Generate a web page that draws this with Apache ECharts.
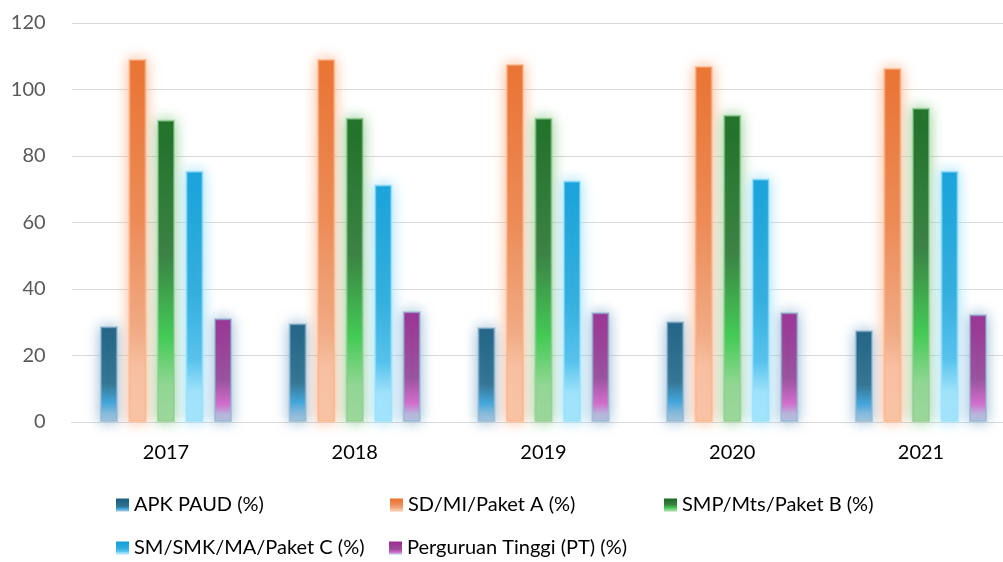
<!DOCTYPE html>
<html>
<head>
<meta charset="utf-8">
<script src="https://cdn.jsdelivr.net/npm/echarts@6/dist/echarts.min.js"></script>
<style>
html,body{margin:0;padding:0;background:#fff;overflow:hidden;}
#chart{width:1003px;height:562px;}
</style>
</head>
<body>
<div id="chart"></div>
<script>
var categories = ['2017', '2018', '2019', '2020', '2021'];
var seriesNames = ['APK PAUD (%)', 'SD/MI/Paket A (%)', 'SMP/Mts/Paket B (%)', 'SM/SMK/MA/Paket C (%)', 'Perguruan Tinggi (PT) (%)'];
var apkPaud = [28.8, 29.7, 28.5, 30.3, 27.6];
var sdMi = [109.2, 109.2, 107.7, 107.1, 106.5];
var smpMts = [90.9, 91.5, 91.5, 92.4, 94.5];
var smSmk = [75.6, 71.4, 72.6, 73.2, 75.6];
var pt = [31.2, 33.3, 33.0, 33.0, 32.4];
var yTicks = [0, 20, 40, 60, 80, 100, 120];

var values = [apkPaud, sdMi, smpMts, smSmk, pt];

function grad(stops) {
  return {type: 'linear', x: 0, y: 0, x2: 0, y2: 1,
    colorStops: stops.map(function (s) { return {offset: s[0], color: s[1]}; })};
}
var fills = [
  grad([[0, '#1a5e80'], [0.6, '#2f7290'], [0.8, '#3ea5dc'], [0.9, '#7fb8dc'], [1, '#a9c8dc']]),
  grad([[0, '#e86f2c'], [0.45, '#ec8a55'], [0.75, '#f0ab85'], [0.85, '#f8c2a4'], [1, '#f9c5a8']]),
  grad([[0, '#196a22'], [0.45, '#367e40'], [0.72, '#3fcb52'], [0.88, '#93d895'], [1, '#9fd89d']]),
  grad([[0, '#0f9ed8'], [0.5, '#2eacdc'], [0.75, '#52c1ec'], [0.88, '#a0e3fb'], [1, '#a3e5fb']]),
  grad([[0, '#9c2a90'], [0.6, '#9b4c9b'], [0.83, '#d868cc'], [0.93, '#bbb7dc'], [1, '#b7c0dc']])
];
var glows = ['#8fb5d2', '#fbb287', '#8ccb8c', '#98dffb', '#8fb5d2'];
var rims = ['rgba(143,181,210,0.6)', 'rgba(251,178,135,0.6)', 'rgba(140,203,140,0.6)', 'rgba(152,223,251,0.6)', 'rgba(143,181,210,0.6)'];

var series = seriesNames.map(function (n, i) {
  return {
    name: n,
    type: 'bar',
    data: values[i],
    barCategoryGap: '30%',
    barGap: '58%',
    itemStyle: {color: fills[i], borderColor: rims[i], borderWidth: 2,
      shadowColor: glows[i], shadowBlur: 14, shadowOffsetX: 0, shadowOffsetY: 0},
    emphasis: {disabled: true}
  };
});

var legendPos = [[116, 495], [390, 495], [664, 495], [116, 538], [389, 538]];
var legends = seriesNames.map(function (n, i) {
  return {
    data: [{name: n, itemStyle: {shadowBlur: 0, borderWidth: 0}}], left: legendPos[i][0], top: legendPos[i][1], padding: 0,
    itemWidth: 13, itemHeight: 13, itemGap: 0, icon: 'rect',
    textStyle: {fontFamily: 'Lato', fontSize: 20, color: '#000', padding: [0, 0, 0, 0]},
    selectedMode: false
  };
});

var chart = echarts.init(document.getElementById('chart'));
chart.setOption({
  animation: false,
  backgroundColor: '#fff',
  grid: {left: 71.6, width: 943.75, top: 23, bottom: 140, containLabel: false, outerBoundsMode: 'none'},
  legend: legends,
  xAxis: {
    type: 'category', data: categories,
    axisLine: {show: true, lineStyle: {color: '#d9d9d9', width: 1}},
    axisTick: {show: false},
    axisLabel: {fontFamily: 'Lato', fontSize: 20, color: '#000', margin: 21}
  },
  yAxis: {
    type: 'value', min: yTicks[0], max: yTicks[yTicks.length - 1], interval: 20,
    axisLine: {show: false}, axisTick: {show: false},
    axisLabel: {fontFamily: 'Lato', fontSize: 20, color: '#595959', margin: 26},
    splitLine: {lineStyle: {color: '#d9d9d9', width: 1}}
  },
  series: series
});
</script>
</body>
</html>
